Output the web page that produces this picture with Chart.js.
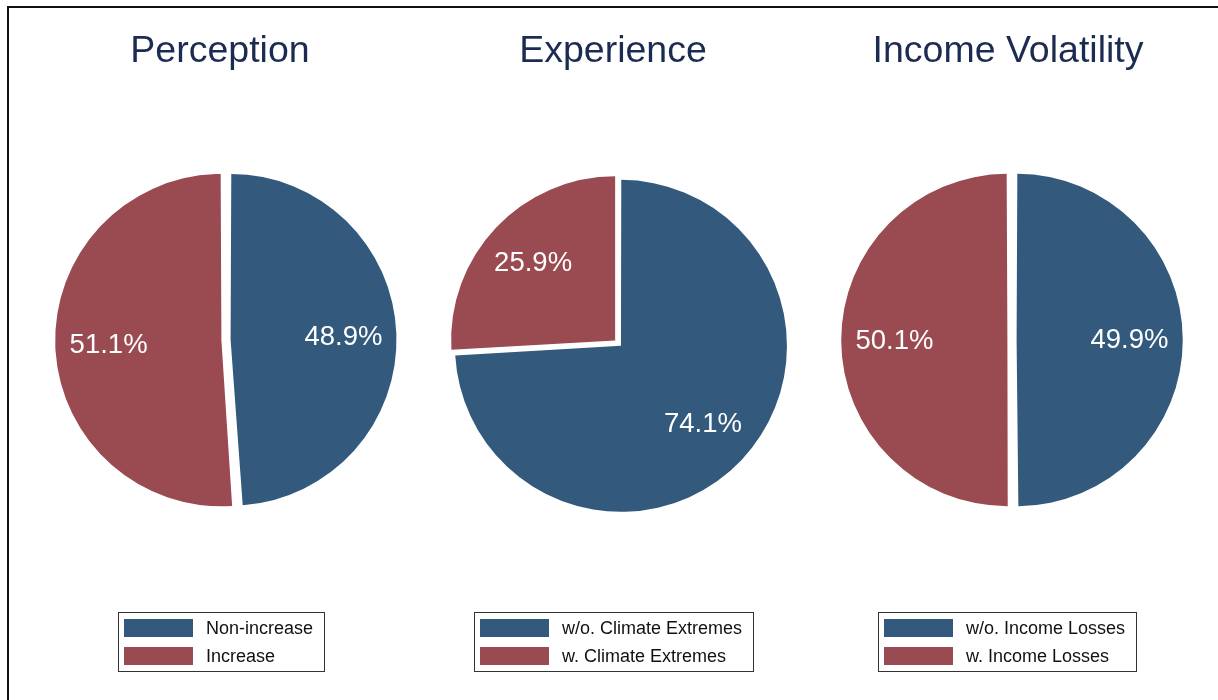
<!DOCTYPE html>
<html>
<head>
<meta charset="utf-8">
<script src="https://cdn.jsdelivr.net/npm/chart.js@4.4.1/dist/chart.umd.min.js"></script>
<style>
  html, body { margin: 0; padding: 0; background: #fff; }
  #wrap { position: relative; width: 1218px; height: 700px; overflow: hidden; }
  #moldura { position: absolute; left: 7px; top: 6px; width: 1240px; height: 720px;
             border-left: 2px solid #111; border-top: 2px solid #111; }
  canvas { position: absolute; top: 0; }
</style>
</head>
<body>
<div id="wrap">
  <div id="moldura"></div>
  <canvas id="pie0" width="400" height="700"></canvas>
  <canvas id="pie1" width="400" height="700"></canvas>
  <canvas id="pie2" width="400" height="700"></canvas>
</div>
<script>
// Dados
const titulos = ['Perception', 'Experience', 'Income Volatility'];

const rotulosPercepcao = ['Non-increase', 'Increase'];
const valoresPercepcao = [48.9, 51.1];

const rotulosExperiencia = ['w/o. Climate Extremes', 'w. Climate Extremes'];
const valoresExperiencia = [74.1, 25.9];

const rotulosRenda = ['w/o. Income Losses', 'w. Income Losses'];
const valoresRenda = [49.9, 50.1];

const cores = ['#33597d', '#9a4a51'];
const corTitulo = '#1c2b52';
const fonte = '"Liberation Sans", Arial, Helvetica, sans-serif';

// posição de cada painel (centro da pizza, título, legenda) e afastamento das fatias.
// No Chart.js a fatia anda offset/4 e o raio cresce offset/4*(1 - sin(ângulo)),
// por isso o raio base e o afastamento são ajustados por painel.
const paineis = [
  { rotulos: rotulosPercepcao, valores: valoresPercepcao, cx: 226, cy: 340, tx: 220, lx: 220.5,
    raio: 161.6, desloc: [4.6, 4.6] },
  { rotulos: rotulosExperiencia, valores: valoresExperiencia, cx: 619.5, cy: 344.5, tx: 613, lx: 613.5,
    raio: 164, desloc: [2, 6] },
  { rotulos: rotulosRenda, valores: valoresRenda, cx: 1012, cy: 340, tx: 1008, lx: 1006.5,
    raio: 161.6, desloc: [4.6, 4.6] }
];

const painelPlugin = {
  id: 'painel',
  afterDatasetsDraw(chart, args, opts) {
    const ctx = chart.ctx;
    const meta = chart.getDatasetMeta(0);
    const valores = chart.data.datasets[0].data;
    ctx.save();

    // percentuais dentro das fatias
    ctx.fillStyle = '#fff';
    ctx.font = '27.5px ' + fonte;
    ctx.textAlign = 'center';
    ctx.textBaseline = 'middle';
    meta.data.forEach((arc, i) => {
      const p = arc.getProps(['x', 'y', 'startAngle', 'endAngle']);
      const meio = (p.startAngle + p.endAngle) / 2;
      const r = 166 * 0.68 + opts.desloc[i];
      ctx.fillText(valores[i].toFixed(1) + '%', p.x + Math.cos(meio) * r, p.y + Math.sin(meio) * r + 1);
    });

    // título
    ctx.fillStyle = corTitulo;
    ctx.font = '37.5px ' + fonte;
    ctx.textBaseline = 'alphabetic';
    ctx.fillText(opts.titulo, opts.tx, 62);

    // legenda com caixa
    ctx.font = '18px ' + fonte;
    const labels = chart.data.labels;
    const larguraTexto = Math.max(...labels.map(l => ctx.measureText(l).width));
    const w = Math.round(88 + larguraTexto + 11);
    const x0 = Math.round(opts.lx - w / 2);
    const y0 = 612;
    ctx.strokeStyle = '#333';
    ctx.lineWidth = 1;
    ctx.strokeRect(x0 + 0.5, y0 + 0.5, w, 59);
    ctx.textAlign = 'left';
    ctx.textBaseline = 'middle';
    labels.forEach((l, i) => {
      const yy = y0 + 7 + i * 28;
      ctx.fillStyle = cores[i];
      ctx.fillRect(x0 + 6, yy, 69, 18);
      ctx.fillStyle = '#111';
      ctx.fillText(l, x0 + 88, yy + 10);
    });
    ctx.restore();
  }
};

paineis.forEach((p, i) => {
  const canvas = document.getElementById('pie' + i);
  const esquerda = Math.round(p.cx - 200);
  const centroX = p.cx - esquerda;
  canvas.style.left = esquerda + 'px';
  new Chart(canvas, {
    type: 'pie',
    data: {
      labels: p.rotulos,
      datasets: [{
        data: p.valores,
        backgroundColor: cores,
        borderWidth: 0,
        offset: ctx => 4 * p.desloc[ctx.dataIndex],
        hoverOffset: 0
      }]
    },
    options: {
      responsive: false,
      animation: false,
      radius: p.raio,
      layout: { padding: { top: p.cy - 185, bottom: 700 - p.cy - 185,
                           left: Math.max(0, 2 * (centroX - 200)), right: Math.max(0, -2 * (centroX - 200)) } },
      events: [],
      plugins: {
        legend: { display: false },
        tooltip: { enabled: false },
        title: { display: false },
        painel: { titulo: titulos[i], tx: p.tx - esquerda, lx: p.lx - esquerda, desloc: p.desloc }
      }
    },
    plugins: [painelPlugin]
  });
});
</script>
</body>
</html>
